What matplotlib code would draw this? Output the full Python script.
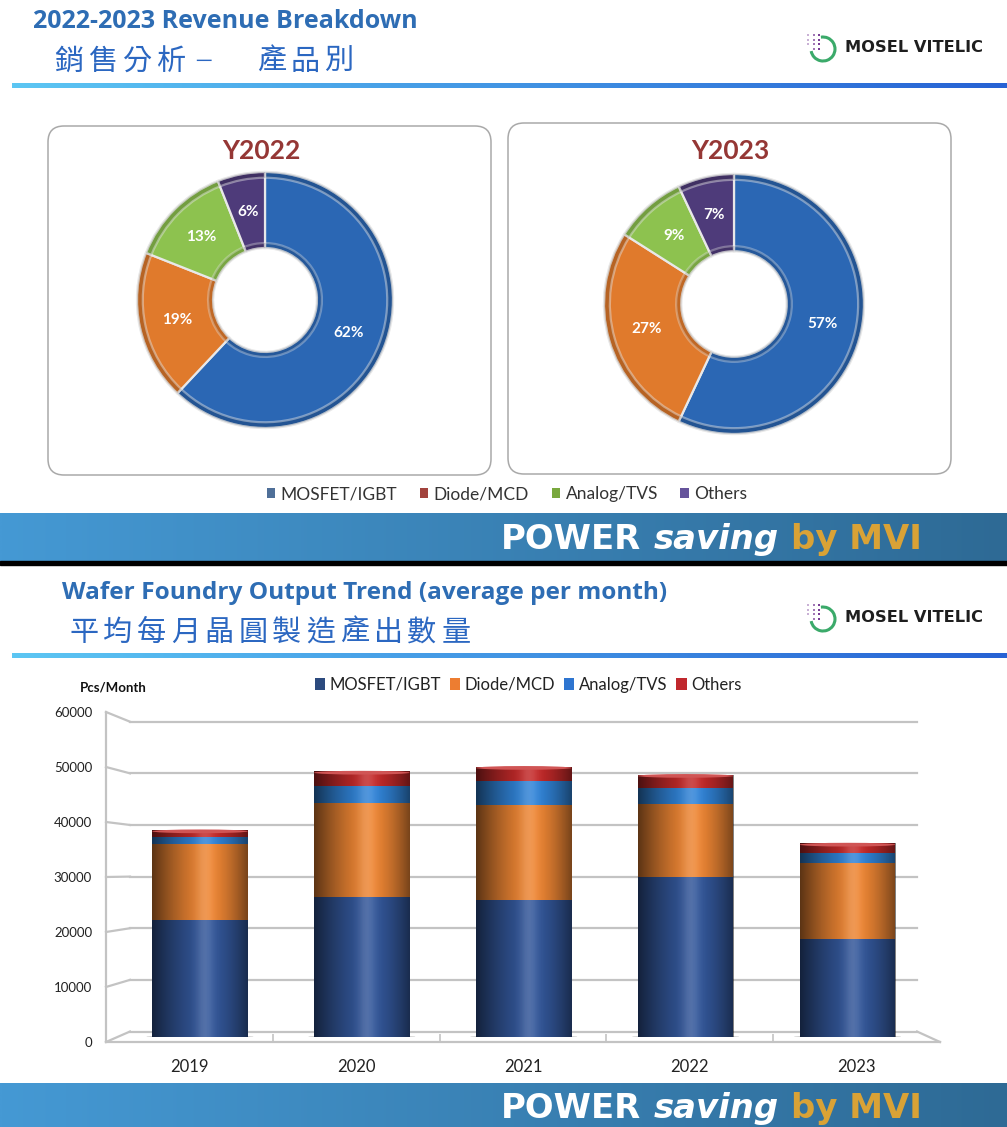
import numpy as np
import matplotlib
matplotlib.use("Agg")
import matplotlib.pyplot as plt
from matplotlib.patches import FancyBboxPatch, Arc, Patch, Ellipse
from matplotlib.lines import Line2D
from matplotlib.colors import to_rgb

plt.rcParams['font.family'] = ['Lato', 'DejaVu Sans']

W, H, DPI = 1007, 1127, 100

# ---------------- data ----------------
segments = ["MOSFET/IGBT", "Diode/MCD", "Analog/TVS", "Others"]
share_2022 = [62, 19, 13, 6]
share_2023 = [57, 27, 9, 7]
donut_colors = ["#2B67B4", "#E07A2C", "#8DC24F", "#4E3B7A"]
donut_legend_colors = ["#4F6F98", "#A2433D", "#79A83E", "#65539B"]

years = ["2019", "2020", "2021", "2022", "2023"]
mosfet_igbt = [22000, 26200, 25700, 29900, 18300]
diode_mcd = [14200, 17600, 17800, 13700, 14400]
analog_tvs = [1300, 3200, 4500, 3100, 1700]
others = [1300, 2800, 2700, 2500, 1900]
bar_colors = ["#33579A", "#EE8634", "#3184D8", "#C42A2A"]
bar_legend_colors = ["#2C4A7E", "#ED7D31", "#2E75D0", "#C0282D"]
y_ticks = [0, 10000, 20000, 30000, 40000, 50000, 60000]

title_top = "2022-2023 Revenue Breakdown"
subtitle_top = "銷售分析－ 產品別"
title_bottom = "Wafer Foundry Output Trend (average per month)"
subtitle_bottom = "平均每月晶圓製造產出數量"

fig = plt.figure(figsize=(W / DPI, H / DPI), dpi=DPI, facecolor='white')
renderer = fig.canvas.get_renderer()


def px_axes(x0, y0, x1, y1, **kw):
    return fig.add_axes([x0 / W, 1 - y1 / H, (x1 - x0) / W, (y1 - y0) / H], **kw)


bg = px_axes(0, 0, W, H, zorder=0)
bg.set_xlim(0, W)
bg.set_ylim(H, 0)
bg.axis('off')


def hgrad(x0, x1, y0, y1, c0, c1, zorder=1, n=256):
    c0 = np.array(to_rgb(c0))
    c1 = np.array(to_rgb(c1))
    t = np.linspace(0, 1, n)[None, :, None]
    img = c0 + (c1 - c0) * t
    img = np.repeat(img, 2, axis=0)
    bg.imshow(img, extent=(x0, x1, y1, y0), aspect='auto', zorder=zorder,
              interpolation='bilinear')


def fit_text(s, x0, x1, y, size=12, va='center', **kw):
    t = fig.text(x0 / W, 1 - y / H, s, fontsize=size, ha='left', va=va, **kw)
    w = t.get_window_extent(renderer).width
    t.set_fontsize(size * (x1 - x0) / w)
    return t


def cjk_row(s, xc0, pitch, y, size, color):
    for i, ch in enumerate(s):
        if ch.strip():
            fs = size * 0.7 if ch == '－' else size
            fig.text((xc0 + i * pitch) / W, 1 - y / H, ch, fontsize=fs, color=color,
                     ha='center', va='center', family=['Noto Sans CJK TC', 'DejaVu Sans'])


def logo(yc):
    for col, xs in enumerate([808, 813.5, 819]):
        for row, ys in enumerate([yc - 13, yc - 8.5, yc - 4, yc + 0.5]):
            if col == 0 and row == 3:
                continue
            bg.scatter([xs], [ys], s=4, marker='s', color='#7A3E96',
                       alpha=0.4 + 0.3 * col, zorder=5, linewidths=0)
    bg.add_patch(Arc((823, yc + 1), 24, 24, theta1=260, theta2=530, color='#3BAA6A',
                     lw=2.2, zorder=5))
    fit_text("MOSEL VITELIC", 845, 983, yc, size=12, color='#1E1E1E',
             fontweight='bold', family='DejaVu Sans')


def banner(y0, y1, base):
    hgrad(0, W, y0, y1, "#4599D4", "#2E6A95", zorder=1)
    parts = [("POWER", "white", "normal"), ("saving", "white", "oblique"),
             ("by MVI", "#D9A236", "normal")]
    size = 24
    texts = []
    for s, c, st in parts:
        texts.append(fig.text(0, 1 - base / H, s, fontsize=size, color=c, style=st,
                              fontweight='bold', family='DejaVu Sans', va='baseline'))
    widths = [t.get_window_extent(renderer).width for t in texts]
    tmp = fig.text(0, 0, "a a", fontsize=size, fontweight='bold', family='DejaVu Sans')
    tmp2 = fig.text(0, 0, "aa", fontsize=size, fontweight='bold', family='DejaVu Sans')
    sp = tmp.get_window_extent(renderer).width - tmp2.get_window_extent(renderer).width
    tmp.remove()
    tmp2.remove()
    total = sum(widths) + 2 * sp
    scale = (922 - 501) / total
    x = 501
    for t, w in zip(texts, widths):
        t.set_fontsize(size * scale)
        t.set_x(x / W)
        x += (w + sp) * scale


# ---------------- top slide ----------------
fit_text(title_top, 33, 417, 22, size=15, color='#2E6DB4', fontweight='bold',
         family='Open Sans')
cjk_row(subtitle_top, 69, 33.7, 62, 21, '#2B67C1')
hgrad(12, W, 83, 88, "#5CC6F3", "#2762D4", zorder=2)
logo(48)

for (x0, y0, x1, y1) in [(48, 126, 491, 475), (508, 123, 951, 474)]:
    bg.add_patch(FancyBboxPatch((x0, y0), x1 - x0, y1 - y0,
                                boxstyle="round,pad=0,rounding_size=16",
                                facecolor='white', edgecolor='#A9A9A9', lw=1.1, zorder=2))


def donut(cx, cy, R, shares, title, tx):
    pad = 1.08
    ax = px_axes(cx - R * pad, cy - R * pad, cx + R * pad, cy + R * pad, zorder=3)
    ax.pie(shares, colors=donut_colors, startangle=90, counterclock=False, radius=1,
           wedgeprops=dict(width=0.594, edgecolor='#E8E8E8', linewidth=1.6),
           autopct=lambda p: f"{p:.0f}%", pctdistance=0.70,
           textprops=dict(color='white', fontweight='bold', fontsize=11))
    dark = [tuple(np.array(to_rgb(c)) * 0.6) for c in donut_colors]
    ax.pie(shares, colors=dark, startangle=90, counterclock=False, radius=1,
           wedgeprops=dict(width=0.045, edgecolor='#E8E8E8', linewidth=1.6, alpha=0.45))
    ax.pie(shares, colors=dark, startangle=90, counterclock=False, radius=0.445,
           wedgeprops=dict(width=0.04, edgecolor='#E8E8E8', linewidth=1.6, alpha=0.35))
    ax.set_xlim(-pad, pad)
    ax.set_ylim(-pad, pad)
    ax.set_aspect('equal')
    ax.axis('off')
    fig.text(tx / W, 1 - 151 / H, title, fontsize=19, fontweight='bold', color='#953735',
             ha='center', va='center')


donut(265, 300, 128, share_2022, "Y2022", 261)
donut(734, 304, 130, share_2023, "Y2023", 730)

fig.legend(handles=[Patch(facecolor=c) for c in donut_legend_colors], labels=segments,
           loc='center', bbox_to_anchor=(507 / W, 1 - 494 / H), ncol=4, frameon=False,
           fontsize=12.5, handlelength=0.5, handleheight=0.5, handletextpad=0.3,
           columnspacing=1.3, labelcolor='#333333')

banner(513, 561, 549)
bg.add_patch(plt.Rectangle((0, 561), W, 3.5, color='black', zorder=3))

# ---------------- bottom slide ----------------
fit_text(title_bottom, 62, 668, 593, size=15, color='#2E6DB4', fontweight='bold',
         family='Open Sans')
cjk_row(subtitle_bottom, 84, 33.8, 633, 21, '#2B67C1')
hgrad(12, W, 653, 658, "#5CC6F3", "#2762D4", zorder=2)
logo(618)

# back wall
ax_back = px_axes(130, 721.7, 917, 1031.5, zorder=2)
ax_back.set_xlim(0, 1)
ax_back.set_ylim(0, 60000)
ax_back.set_yticks(y_ticks)
ax_back.set_xticks([])
ax_back.grid(axis='y', color='#C3C3C3', lw=1.6)
ax_back.tick_params(left=False, labelleft=False)
for s in ax_back.spines.values():
    s.set_visible(False)
ax_back.patch.set_alpha(0)
for gl in ax_back.get_ygridlines():
    gl.set_clip_on(False)

# front frame with labels
ax_front = px_axes(106, 712, 940, 1042, zorder=3)
ax_front.set_xlim(-0.5, len(years) - 0.5)
ax_front.set_ylim(0, 60000)
ax_front.set_yticks(y_ticks)
ax_front.set_yticklabels([str(v) for v in y_ticks])
ax_front.set_xticks(range(len(years)))
ax_front.set_xticklabels(years)
ax_front.set_xticks(np.arange(0.5, len(years) - 1), minor=True)
ax_front.tick_params(axis='y', length=0, pad=10, labelsize=9.5, labelcolor='#222222')
ax_front.tick_params(axis='x', which='major', length=0, pad=12, labelsize=12,
                     labelcolor='#222222')
ax_front.tick_params(axis='x', which='minor', direction='in', length=6, color='#C3C3C3',
                     width=1.2)
for k in ['top', 'right']:
    ax_front.spines[k].set_visible(False)
for k in ['left', 'bottom']:
    ax_front.spines[k].set_color('#C3C3C3')
    ax_front.spines[k].set_linewidth(1.6)
ax_front.patch.set_alpha(0)

fit_text("Pcs/Month", 80, 147, 688, size=9, color='#111111', fontweight='bold')

# bars
ax_bar = px_axes(119, 717, 928.5, 1036.8, zorder=4)
x = np.arange(len(years))
bottom = np.zeros(len(years))
containers = []
bw = 0.59
for vals, c, name in zip([mosfet_igbt, diode_mcd, analog_tvs, others], bar_colors, segments):
    bc = ax_bar.bar(x, vals, width=bw, bottom=bottom, color=c, label=name,
                    edgecolor='none', zorder=2)
    containers.append(bc)
    bottom = bottom + np.array(vals)

# floor shadows and top caps (cylinder look)
for xi in x:
    ax_bar.add_patch(Ellipse((xi, 0), bw * 1.12, 700, color='#7F7F7F', alpha=0.35,
                             zorder=1, lw=0))
cap_col = tuple(1 - (1 - np.array(to_rgb(bar_colors[-1]))) * 0.8)
for xi, top in zip(x, bottom):
    ax_bar.add_patch(Ellipse((xi, top - 250), bw, 700, color=cap_col, zorder=3, lw=0))

t = np.linspace(0, 1, 200)
alpha = np.where(t < 0.6, 0.62 * (1 - t / 0.6) ** 1.5, 0.5 * ((t - 0.6) / 0.4) ** 1.5)
shade = np.zeros((2, 200, 4))
shade[..., 3] = alpha
hl = np.ones((2, 200, 4))
hl[..., 3] = 0.16 * np.exp(-((t - 0.55) / 0.09) ** 2)
for bc in containers:
    for r in bc.patches:
        x0, y0 = r.get_x(), r.get_y()
        w, h = r.get_width(), r.get_height()
        for img in (shade, hl):
            im = ax_bar.imshow(img, extent=(x0, x0 + w, y0, y0 + h), aspect='auto',
                               zorder=2.1, interpolation='bilinear')
            im.set_clip_path(r)
ax_bar.set_xlim(-0.5, len(years) - 0.5)
ax_bar.set_ylim(0, 60000)
ax_bar.set_aspect('auto')
ax_bar.axis('off')

fig.legend(handles=[Patch(facecolor=c) for c in bar_legend_colors], labels=segments,
           loc='center', bbox_to_anchor=(528 / W, 1 - 685 / H), ncol=4, frameon=False,
           fontsize=12, handlelength=0.62, handleheight=0.7, handletextpad=0.25,
           columnspacing=0.55, labelcolor='#222222')

banner(1083, H, 1118)

# reset background limits then draw 3D connectors
bg.set_xlim(0, W)
bg.set_ylim(H, 0)
inv = bg.transData.inverted()
for v in y_ticks:
    p1 = ax_front.transData.transform((-0.5, v))
    p2 = ax_back.transData.transform((0, v))
    (a, b), (c, d) = inv.transform([p1, p2])
    bg.add_line(Line2D([a, c], [b, d], color='#C3C3C3', lw=1.6, zorder=3))
p1 = ax_back.transData.transform((1, 0))
p2 = ax_front.transData.transform((len(years) - 0.5, 0))
(a, b), (c, d) = inv.transform([p1, p2])
bg.add_line(Line2D([a, c], [b, d], color='#C3C3C3', lw=1.6, zorder=3))

fig.savefig("out.png", dpi=DPI, facecolor='white')
